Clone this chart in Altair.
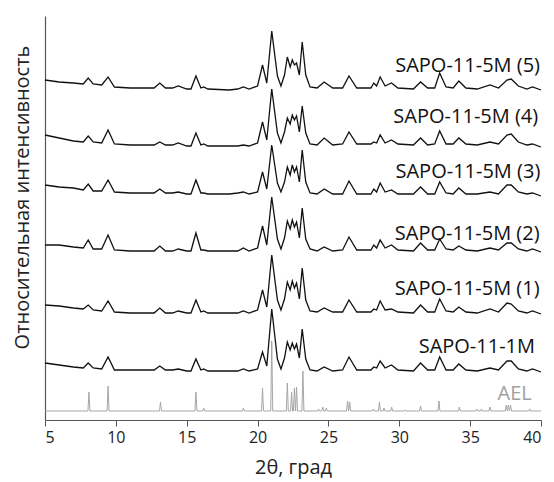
import altair as alt
import pandas as pd

# 2θ grid at which the measured patterns were read
two_theta = [5.0, 6.0, 7.0, 7.7, 8.05, 8.4, 9.0, 9.45, 9.9, 11.0,
             12.7, 13.1, 13.5, 14.0, 14.4, 15.0, 15.3, 15.65, 16.0, 16.2,
             16.5, 18.0, 18.6, 19.0, 19.4, 20.0, 20.35, 20.65, 21.0, 21.4,
             21.65, 21.9, 22.1, 22.3, 22.45, 22.6, 22.75, 22.95, 23.15, 23.4,
             23.7, 24.2, 24.7, 25.3, 26.0, 26.45, 27.0, 28.0, 28.2, 28.4,
             28.65, 29.0, 29.45, 29.9, 31.0, 31.5, 32.0, 32.5, 32.85, 33.3,
             33.8, 34.2, 34.7, 35.5, 36.4, 37.0, 37.6, 37.9, 38.4, 39.0,
             39.4, 40.0]

series_names = ["SAPO-11-1M", "SAPO-11-5M (1)", "SAPO-11-5M (2)",
                "SAPO-11-5M (3)", "SAPO-11-5M (4)", "SAPO-11-5M (5)"]
series_offsets = [48, 107, 169, 225, 274, 331]

int_1M = [9, 7, 5, 4, 9, 4, 3, 15, 2, 2,
          2, 6, 2, 2, 3, 1, 1, 13, 2, 3,
          1, 1, 1, 3, 1, 3, 20, 6, 63, 13,
          3, 14, 30, 22, 29, 23, 28, 14, 43, 13,
          2, 1, 5, 1, 2, 15, 2, 2, 5, 4,
          11, 4, 7, 2, 1, 9, 2, 2, 15, 2,
          2, 8, 2, 1, 4, 2, 11, 11, 3, 1,
          3, 0]
int_5M1 = [8, 7, 5, 4, 8, 3, 2, 12, 1, 0,
           0, 5, 0, 0, 2, 0, 0, 13, 1, 2,
           0, 0, 0, 2, 0, 3, 23, 6, 58, 13,
           3, 14, 31, 23, 32, 25, 30, 14, 45, 13,
           2, 1, 5, 1, 1, 13, 1, 1, 4, 3,
           12, 3, 4, 1, 0, 8, 1, 1, 14, 2,
           1, 6, 1, 0, 4, 1, 10, 9, 2, 0,
           2, -1]
int_5M2 = [6, 6, 4, 3, 11, 2, 2, 16, 1, 0,
           0, 5, 0, 0, 2, 0, 0, 18, 1, 1,
           0, 0, 0, 3, 0, 3, 25, 6, 54, 12,
           2, 13, 30, 22, 31, 24, 29, 13, 43, 12,
           2, 0, 4, 0, 1, 14, 1, 1, 6, 3,
           11, 3, 6, 1, 0, 8, 1, 1, 12, 2,
           1, 5, 1, 0, 3, 1, 8, 8, 2, 0,
           2, -1]
int_5M3 = [10, 8, 7, 5, 11, 4, 4, 15, 3, 2,
           2, 6, 2, 2, 3, 1, 1, 15, 2, 2,
           1, 1, 2, 3, 1, 3, 23, 6, 50, 12,
           3, 13, 28, 20, 30, 23, 28, 13, 45, 13,
           2, 1, 6, 1, 1, 14, 1, 1, 6, 3,
           12, 3, 5, 1, 1, 8, 1, 1, 13, 2,
           1, 7, 1, 1, 3, 1, 10, 10, 3, 1,
           2, -1]
int_5M4 = [11, 8, 5, 4, 10, 4, 3, 16, 2, 1,
           1, 4, 1, 1, 3, 0, 0, 13, 1, 2,
           0, 0, 0, 1, 0, 3, 24, 6, 57, 13,
           3, 14, 28, 22, 31, 26, 30, 14, 40, 13,
           2, 1, 8, 1, 2, 14, 2, 2, 4, 3,
           11, 3, 6, 2, 1, 8, 1, 2, 15, 2,
           2, 8, 2, 1, 4, 2, 11, 12, 4, 1,
           2, -1]
int_5M5 = [9, 7, 6, 5, 11, 5, 4, 12, 2, 1,
           1, 6, 1, 1, 3, 0, 0, 13, 1, 2,
           0, -1, 0, 2, 0, 3, 24, 6, 58, 13,
           3, 14, 32, 22, 29, 24, 26, 14, 47, 14,
           2, 1, 7, 1, 1, 13, 1, 1, 6, 3,
           12, 3, 6, 1, 0, 7, 1, 1, 16, 2,
           1, 8, 1, 0, 4, 1, 9, 10, 3, 0,
           2, -1]
series_values = [int_1M, int_5M1, int_5M2, int_5M3, int_5M4, int_5M5]

# AEL reference pattern: line positions and heights
ael_offset = 9
ael_pos = [8.1, 9.45, 13.15, 15.65, 16.2, 19.0, 20.35, 21.0, 22.1, 22.4,
           22.6, 22.75, 23.2, 24.3, 24.6, 24.85, 26.35, 26.5, 28.17, 28.6,
           28.92, 29.46, 30.4, 31.5, 32.8, 34.24, 35.46, 35.8, 36.4, 37.55,
           37.7, 37.85, 39.2]
ael_height = [19, 25, 9, 19, 3, 3, 23, 70, 28, 19,
              23, 24, 40, 2, 4, 3, 10, 9, 2, 9,
              3, 4, 1, 5, 10, 4, 2, 2, 4, 6,
              6, 6, 2]
ael_halfwidth = 0.07

# labels: text, 2θ of right edge, intensity of baseline, colour
label_text = ["SAPO-11-5M (5)", "SAPO-11-5M (4)", "SAPO-11-5M (3)",
              "SAPO-11-5M (2)", "SAPO-11-5M (1)", "SAPO-11-1M", "AEL"]
label_x = [39.93, 39.8, 39.95, 39.9, 39.9, 39.58, 39.35]
label_y = [348, 297, 242, 180, 125, 67, 20]
label_color = ["#111111"] * 6 + ["#a0a0a0"]

rows = []
for name, off, vals in zip(series_names, series_offsets, series_values):
    for i, (x, v) in enumerate(zip(two_theta, vals)):
        rows.append({"x": x, "y": off + v, "s": name, "o": i})
df = pd.DataFrame(rows)

ael_rows = [{"x": 5.0, "y": ael_offset}]
for p, h in zip(ael_pos, ael_height):
    ael_rows.append({"x": p - ael_halfwidth, "y": ael_offset})
    ael_rows.append({"x": p, "y": ael_offset + h})
    ael_rows.append({"x": p + ael_halfwidth, "y": ael_offset})
ael_rows.append({"x": 40.0, "y": ael_offset})
for i, r in enumerate(ael_rows):
    r["o"] = i
ael_df = pd.DataFrame(ael_rows)

lab_df = pd.DataFrame({"t": label_text, "x": label_x, "y": label_y, "c": label_color})

FONT = "Open Sans"
all_ticks = [5, 7.5, 10, 12.5, 15, 17.5, 20, 22.5, 25, 27.5, 30, 32.5, 35, 37.5, 40]

x_enc = alt.X(
    "x:Q",
    scale=alt.Scale(domain=[5, 40], nice=False, zero=False),
    axis=alt.Axis(
        values=all_ticks,
        labelExpr="datum.value % 5 == 0 ? datum.label : ''",
        tickSize={"condition": {"test": "datum.value % 5 == 0", "value": 6}, "value": 3},
        labelOverlap=False,
        labelPadding=3,
        grid=False,
        title="2θ, град",
        titleX=248,
        titleY=53,
        titleBaseline="alphabetic",
        titleAlign="center",
    ),
)
y_enc = alt.Y(
    "y:Q",
    scale=alt.Scale(domain=[0, 404], nice=False, zero=False),
    axis=alt.Axis(
        ticks=False,
        labels=False,
        grid=False,
        title="Относительная интенсивность",
        titleX=-17,
        titleY=181,
        titleAngle=270,
        titleBaseline="alphabetic",
        titleAlign="center",
    ),
)

ael = alt.Chart(ael_df).mark_line(color="#a6a6a6", strokeWidth=1).encode(
    x=x_enc, y=y_enc, order="o:Q"
)
curves = alt.Chart(df).mark_line(color="#111111", strokeWidth=1.3).encode(
    x="x:Q", y="y:Q", detail="s:N", order="o:Q"
)
labels = alt.Chart(lab_df).mark_text(
    align="right", baseline="alphabetic", fontSize=20, font=FONT
).encode(x="x:Q", y="y:Q", text="t:N", color=alt.Color("c:N", scale=None))

chart = (
    alt.layer(ael, curves, labels)
    .properties(
        width=496,
        height=404,
        autosize=alt.AutoSizeParams(type="none"),
        padding={"left": 37, "top": 8, "right": 5, "bottom": 62},
    )
    .configure_view(stroke=None)
    .configure_axis(
        domainColor="#555555",
        tickColor="#555555",
        domainWidth=1.2,
        labelFont=FONT,
        labelFontSize=16,
        labelColor="#222222",
        titleFont=FONT,
        titleFontSize=20,
        titleFontWeight="normal",
        titleColor="#222222",
    )
)

chart.save("out.html", embed_options={"renderer": "svg", "actions": False})
